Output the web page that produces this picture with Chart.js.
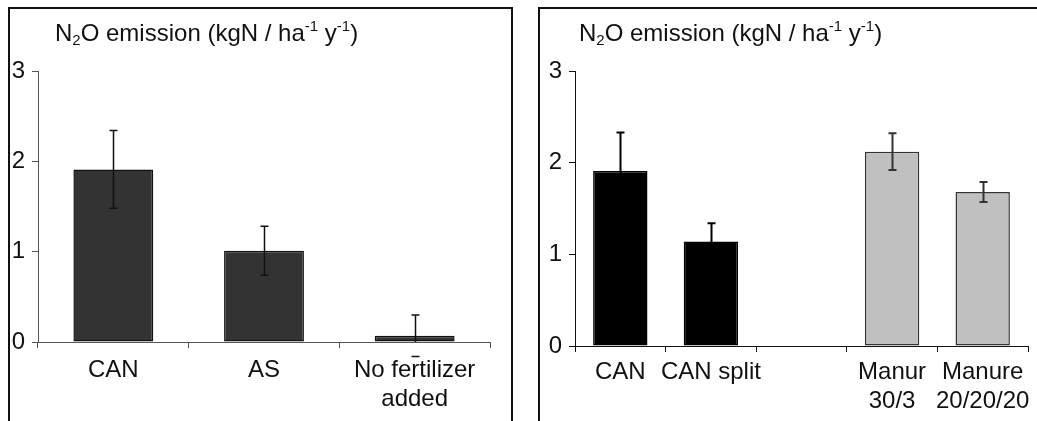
<!DOCTYPE html>
<html>
<head>
<meta charset="utf-8">
<script src="https://cdn.jsdelivr.net/npm/chart.js@4.4.1/dist/chart.umd.min.js"></script>
<style>
    html, body { margin: 0; padding: 0; background: #fff; }
    body { width: 1037px; height: 421px; position: relative; overflow: hidden; font-family: "Liberation Sans", Arial, sans-serif; }
    .box { position: absolute; border: 2px solid #111; box-sizing: border-box; }
    .holder { position: absolute; top: 0; height: 421px; }
    .title { position: absolute; font-size: 24px; line-height: 24px; color: #111; white-space: nowrap; }
    .title sub, .title sup { font-size: 15px; position: relative; vertical-align: baseline; }
    .title sub { top: 4px; }
    .title sup { top: -10px; }
</style>
</head>
<body>
<div class="box" style="left:8px; top:7px; width:505px; height:430px;"></div>
<div class="box" style="left:538px; top:7px; width:520px; height:430px;"></div>

<div class="holder" style="left:0; width:518px;"><canvas id="left"></canvas></div>
<div class="holder" style="left:518px; width:519px;"><canvas id="right"></canvas></div>

<div class="title" style="left:55px; top:21px;">N<sub>2</sub>O emission (kgN / ha<sup>-1</sup> y<sup>-1</sup>)</div>
<div class="title" style="left:579px; top:21px;">N<sub>2</sub>O emission (kgN / ha<sup>-1</sup> y<sup>-1</sup>)</div>

<script>
// values
const leftLabels = ['CAN', 'AS', ['No fertilizer', 'added']];
const leftValues = [1.91, 1.01, 0.07];
const leftErrors = [0.43, 0.27, 0.23];

const rightLabels = ['CAN', 'CAN split', '', ['Manur', '30/3'], ['Manure', '20/20/20']];
const rightValues = [1.91, 1.14, null, 2.12, 1.68];
const rightErrors = [0.42, 0.20, null, 0.20, 0.11];

const yMin = 0;
const yMax = 3;
const yStep = 1;

const errorBars = {
    id: 'errorBars',
    afterDatasetsDraw(chart, args, opts) {
        const ctx = chart.ctx;
        const y = chart.scales.y;
        const bars = chart.getDatasetMeta(0).data;
        const values = chart.data.datasets[0].data;
        ctx.save();
        ctx.lineWidth = opts.width;
        bars.forEach((bar, i) => {
            const v = values[i];
            const e = opts.errors[i];
            if (v === null || e === null || e === undefined) return;
            const top = y.getPixelForValue(v + e);
            const bottom = y.getPixelForValue(v - e);
            const x = Math.round(bar.x) + 0.5;
            ctx.strokeStyle = Array.isArray(opts.color) ? opts.color[i] : opts.color;
            ctx.beginPath();
            ctx.moveTo(x, top);
            ctx.lineTo(x, Math.min(bottom, chart.chartArea.bottom));
            ctx.moveTo(x - opts.cap, top);
            ctx.lineTo(x + opts.cap, top);
            ctx.moveTo(x - opts.cap, bottom);
            ctx.lineTo(x + opts.cap, bottom);
            ctx.stroke();
        });
        ctx.restore();
    }
};

function makeChart(id, labels, values, errors, style) {
    return new Chart(document.getElementById(id), {
        type: 'bar',
        data: {
            labels: labels,
            datasets: [{
                data: values,
                backgroundColor: style.fill,
                borderColor: style.border,
                borderWidth: 1.5,
                borderSkipped: false,
                barPercentage: style.barPct,
                categoryPercentage: 1
            }]
        },
        plugins: [errorBars],
        options: {
            responsive: true,
            maintainAspectRatio: false,
            animation: false,
            devicePixelRatio: 1,
            layout: { padding: { left: 0, right: style.padRight, top: 71, bottom: 0 } },
            plugins: {
                legend: { display: false },
                tooltip: { enabled: false },
                errorBars: { errors: errors, color: style.errColor, width: style.errWidth, cap: 4 }
            },
            scales: {
                x: {
                    offset: true,
                    grid: { offset: true, drawOnChartArea: false, drawTicks: true, tickLength: 6, color: style.axis, lineWidth: 1 },
                    border: { display: true, color: style.axis, width: 1 },
                    ticks: {
                        autoSkip: false, maxRotation: 0, minRotation: 0,
                        padding: style.xPad, color: '#111',
                        font: { family: '"Liberation Sans", Arial, sans-serif', size: 24 }
                    },
                    afterFit(scale) { scale.height = style.xHeight; }
                },
                y: {
                    min: yMin, max: yMax,
                    grid: { drawOnChartArea: false, drawTicks: true, tickLength: 6, color: style.axis, lineWidth: 1 },
                    border: { display: true, color: style.axis, width: 1 },
                    ticks: {
                        stepSize: yStep, padding: 7, color: '#111',
                        font: { family: '"Liberation Sans", Arial, sans-serif', size: 24 }
                    },
                    afterFit(scale) { scale.width = style.yWidth; }
                }
            }
        }
    });
}

makeChart('left', leftLabels, leftValues, leftErrors, {
    fill: '#333333', border: '#111', barPct: 0.53, axis: '#555',
    errColor: '#111', errWidth: 1.5, padRight: 28, xHeight: 79, yWidth: 38, xPad: 8
});

makeChart('right', rightLabels, rightValues, rightErrors, {
    fill: ['#000', '#000', '#000', '#c0c0c0', '#c0c0c0'],
    border: ['#000', '#000', '#000', '#333', '#333'],
    barPct: 0.6, axis: '#111',
    errColor: ['#000', '#000', '#000', '#333', '#333'], errWidth: 2, padRight: 9, xHeight: 75, yWidth: 57, xPad: 6
});
</script>
</body>
</html>
